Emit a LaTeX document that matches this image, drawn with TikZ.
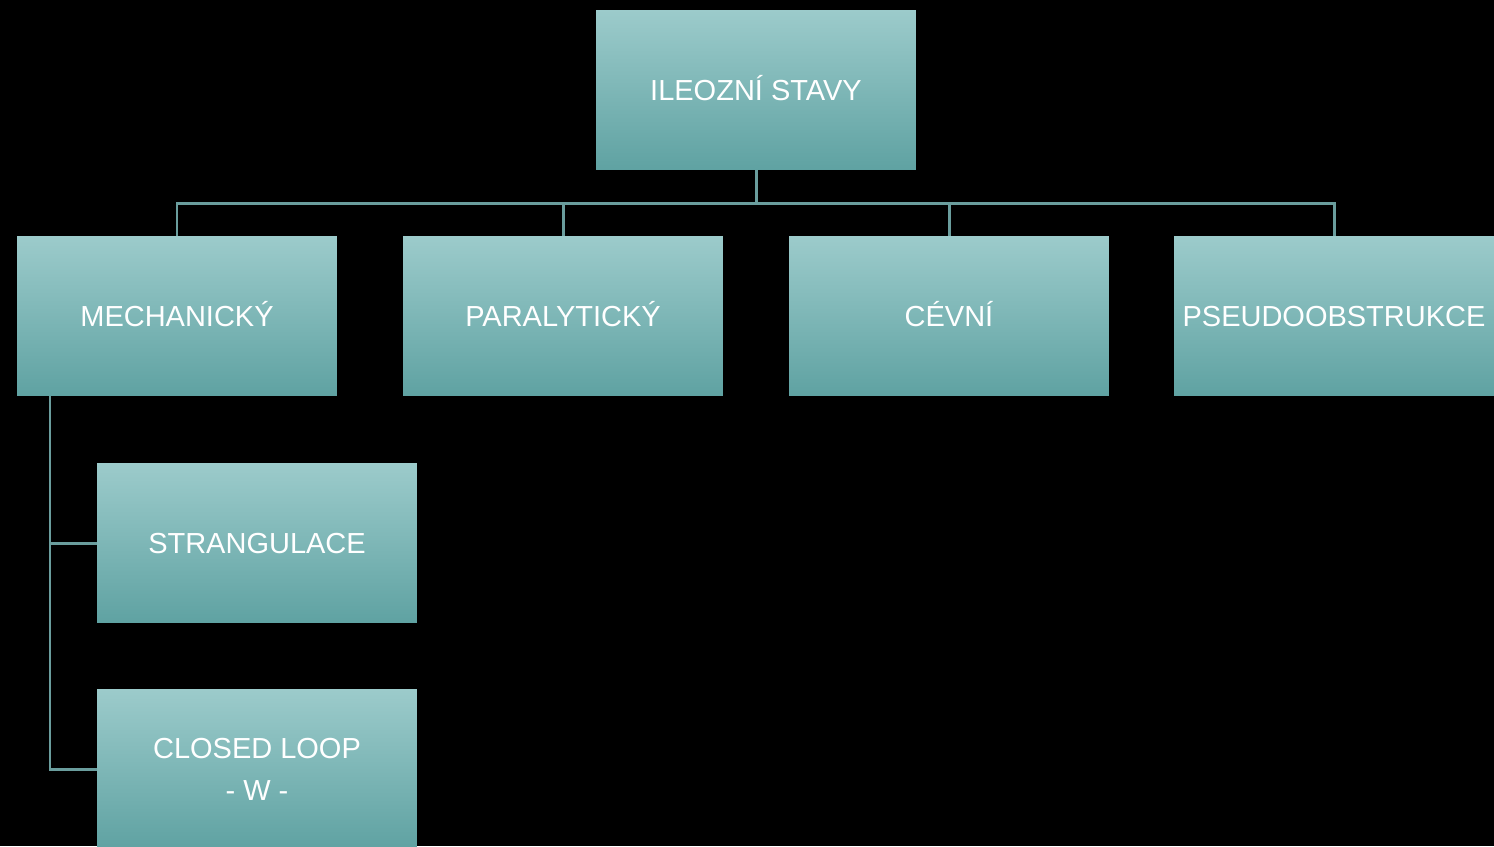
\documentclass[tikz,border=0pt]{standalone}
\usepackage{fontspec}
\setmainfont{Liberation Sans}
\usetikzlibrary{positioning}
\definecolor{boxtop}{HTML}{9CCBCB}
\definecolor{boxbot}{HTML}{5FA2A2}
\definecolor{linkclr}{HTML}{6A9D9D}

\begin{document}
\begin{tikzpicture}[x=0.02cm, y=-0.02cm,
    box/.style={rectangle, top color=boxtop, bottom color=boxbot,
        minimum width=6.4cm, minimum height=3.2cm, inner sep=0pt,
        text=white, align=center, font=\fontsize{16.5}{24}\selectfont},
    oneline/.style={box, text height=12pt, text depth=0.2pt},
    link/.style={draw=linkclr, line width=1.7pt}]
    % pozadi
    \fill[black] (0,0) rectangle (1494,846);
    \useasboundingbox (0,0) rectangle (1494,846);
    % uzly
    \node[oneline] (ileus) at (756,90) {ILEOZNÍ STAVY};
    \node[oneline] (mech) at (177,316) {MECHANICKÝ};
    \node[oneline] (para) at (563,316) {PARALYTICKÝ};
    \node[oneline] (cevni) at (949,316) {CÉVNÍ};
    \node[oneline] (pseudo) at (1334,316) {PSEUDOOBSTRUKCE};
    \node[oneline] (strang) at (257,543) {STRANGULACE};
    \node[box] (loop) at (257,769) {CLOSED LOOP\\- W -};
    % spojnice
    \coordinate (bus) at (756,203);
    \coordinate (trunk) at (50,396);
    \draw[link] (ileus.south) -- (bus);
    \draw[link] (mech.north) |- (bus) -| (pseudo.north);
    \foreach \k in {para,cevni} {
        \draw[link] (\k.north) -- (\k.north |- bus);
    }
    \draw[link] (trunk) |- (loop.west);
    \draw[link] (trunk |- strang.west) -- (strang.west);
\end{tikzpicture}
\end{document}
